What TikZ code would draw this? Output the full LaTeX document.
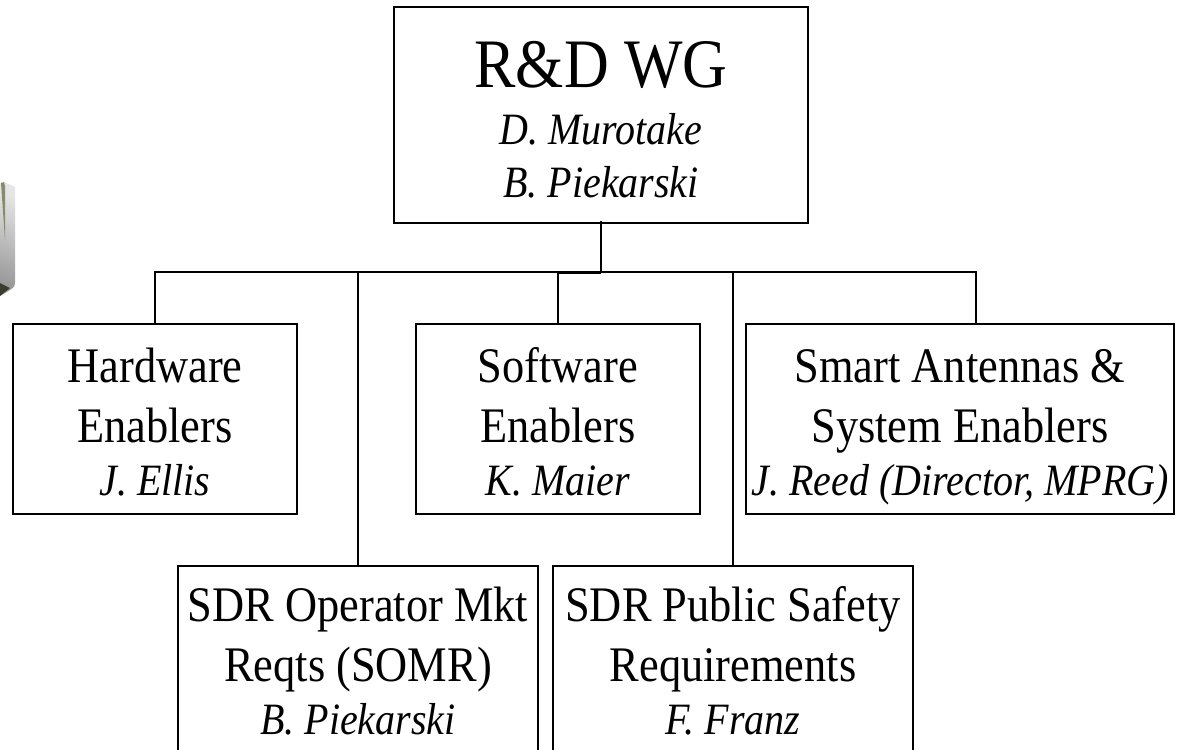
\documentclass[tikz,border=0pt]{standalone}
\usepackage{graphicx}
\usepackage{fontspec}
\setmainfont{Liberation Serif}
\definecolor{logoolive}{HTML}{888C6C}
\definecolor{logodark}{HTML}{3C3D2C}
\newcommand{\headfont}{\fontsize{62}{60}\selectfont}
\newcommand{\bodyfont}{\fontsize{44.4}{60}\selectfont}
\newcommand{\namefont}{\fontsize{40}{53}\selectfont\itshape}
% the reference text is a little taller than it is wide
\newcommand{\tall}[1]{\smash{\scalebox{1}[1.12]{#1}}}
\newcommand{\subline}[1]{\tall{\namefont #1}}
\tikzset{
  unit/.style={draw=black, line width=1.8pt, fill=white, align=center, inner sep=0pt, font=\bodyfont},
  link/.style={draw=black, line width=2pt}
}
\begin{document}
\begin{tikzpicture}[x=1pt,y=-1pt]
\useasboundingbox (0,0) rectangle (1201,749);
\fill [white] (0,0) rectangle (1201,749);
% logo at the left edge
\shade [top color=gray!20, bottom color=gray!80, shading angle=-25] (0,183) -- (4,182) -- (15,187) -- (15,282) .. controls (15,287) and (13,288) .. (10,290) -- (0,296) -- cycle;
\fill [logoolive] (1,183) -- (4,182) -- (5,186) -- (5,240) -- cycle;
\fill [logodark] (0,283) -- (10,288) -- (0,296) -- cycle;
% boxes
\node [unit, minimum width=414, minimum height=216] (rd) at (601,115)
  {\rule{0pt}{54pt}\tall{\headfont R\&D WG}\\[-3pt]\subline{D. Murotake}\\[-7pt]\subline{B. Piekarski}};
\node [unit, minimum width=284, minimum height=190] (hw) at (155,419)
  {\rule{0pt}{39pt}\tall{Hardware}\\\tall{Enablers}\\[-7pt]\subline{J. Ellis}};
\node [unit, minimum width=284, minimum height=190] (sw) at (558,419)
  {\rule{0pt}{39pt}\tall{Software}\\\tall{Enablers}\\[-7pt]\subline{K. Maier}};
\node [unit, minimum width=428, minimum height=190] (sa) at (960,419)
  {\rule{0pt}{39pt}\tall{Smart Antennas \&}\\\tall{System Enablers}\\[-7pt]\subline{J. Reed (Director, MPRG)}};
\node [unit, minimum width=360, minimum height=185] (somr) at (358,658.5)
  {\rule{0pt}{39pt}\tall{SDR Operator Mkt}\\\tall{Reqts (SOMR)}\\[-7pt]\subline{B. Piekarski}};
\node [unit, minimum width=360, minimum height=185] (sps) at (733,658.5)
  {\rule{0pt}{39pt}\tall{SDR Public Safety}\\\tall{Requirements}\\[-7pt]\subline{F. Franz}};
% connectors
\coordinate (bus) at (601,272);
\coordinate (busb) at (601,272.7);
\coordinate (satop) at (976,324);
\draw [link] ([yshift=3pt]rd.south) -- (bus);
\draw [link] (bus) -| (hw.north);
\draw [link] (busb) -| (sw.north);
\draw [link] (bus) -| (satop);
\draw [link] (bus) -| (somr.north);
\draw [link] (bus) -| (sps.north);
\end{tikzpicture}
\end{document}
